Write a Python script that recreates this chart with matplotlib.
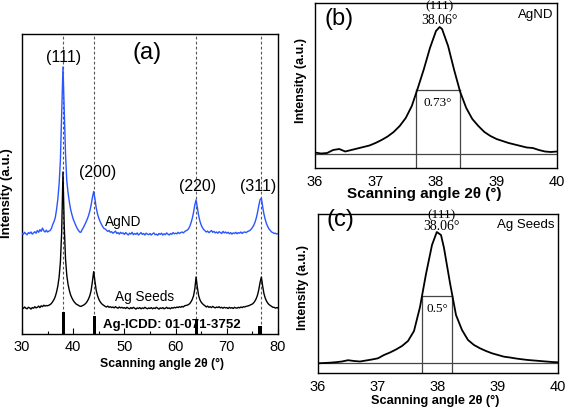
import numpy as np
import matplotlib
matplotlib.use("Agg")
import matplotlib.pyplot as plt
from matplotlib.ticker import MultipleLocator

plt.rcParams['font.family'] = ['Liberation Sans', 'DejaVu Sans']

# ---------------- data : panel (a) ----------------
two_theta = np.arange(30.0, 80.0001, 0.25)  # sampling positions of the scans

agnd = [
    33.6, 33.2, 33.9, 33.4, 33.1, 33.8, 33.5, 34.0, 33.3, 33.7, 34.1, 33.6, 34.5, 33.9, 34.8, 34.2, 35.3, 34.4, 34.0, 34.6,
    34.0, 34.3, 34.5, 35.2, 36.5, 37.5, 38.8, 41.5, 45.0, 50.0, 58.0, 74.0, 89.0, 75.0, 60.0, 51.0, 47.0, 44.0, 41.5, 39.8,
    38.3, 37.2, 36.2, 35.3, 34.6, 34.0, 33.9, 34.8, 35.5, 36.4, 37.3, 38.3, 39.5, 41.0, 43.0, 45.5, 47.5, 45.0, 42.0, 40.0,
    38.6, 37.5, 36.6, 35.8, 35.2, 35.0, 34.6, 34.2, 34.5, 33.9, 34.1, 33.6, 33.9, 34.3, 33.5, 33.8, 33.3, 33.9, 33.5, 33.7,
    33.2, 33.8, 33.4, 33.0, 33.6, 33.3, 33.9, 33.1, 33.5, 33.2, 33.7, 33.0, 33.4, 33.8, 33.2, 33.5, 33.0, 33.6, 33.3, 33.1,
    33.5, 33.0, 33.4, 33.7, 33.1, 33.3, 32.9, 33.5, 33.2, 33.6, 33.0, 33.4, 33.1, 33.7, 33.3, 33.0, 33.5, 33.2, 33.8, 33.4,
    33.6, 33.4, 33.9, 33.5, 33.8, 34.0, 33.7, 34.1, 34.4, 34.6, 35.0, 35.8, 37.0, 38.5, 40.5, 43.0, 44.7, 42.0, 39.5, 37.6,
    36.3, 35.4, 34.8, 34.4, 34.0, 34.3, 33.8, 34.1, 34.5, 33.9, 34.2, 33.7, 34.0, 33.6, 34.1, 33.8, 33.5, 34.2, 33.7, 34.0,
    33.6, 33.9, 33.4, 33.8, 33.3, 33.7, 33.5, 33.9, 33.4, 33.8, 33.6, 34.0, 33.5, 33.9, 34.0, 33.8, 34.1, 34.3, 34.5, 34.9,
    35.5, 36.2, 37.2, 38.6, 40.5, 42.8, 44.8, 45.3, 42.5, 40.0, 38.2, 36.8, 35.8, 35.0, 34.5, 34.0, 33.8, 33.5, 33.6, 33.3,
    33.5,
]

ag_seeds = [
    8.8, 8.5, 9.0, 8.6, 8.4, 8.9, 8.7, 8.3, 8.8, 8.6, 9.1, 8.7, 8.9, 9.3, 8.8, 9.4, 9.1, 9.6, 9.3, 9.5,
    9.4, 9.6, 9.8, 10.2, 10.8, 11.5, 12.5, 14.0, 16.0, 19.0, 24.0, 34.0, 54.0, 36.0, 25.0, 19.5, 16.5, 14.5, 13.0, 12.0,
    11.2, 10.6, 10.1, 9.8, 9.6, 9.3, 9.2, 9.4, 9.6, 9.9, 10.3, 10.9, 11.7, 12.8, 14.5, 17.5, 20.8, 17.5, 14.5, 12.8,
    11.6, 10.8, 10.2, 9.8, 9.5, 9.2, 9.0, 9.3, 8.9, 9.1, 8.8, 9.0, 8.7, 9.1, 8.8, 8.6, 9.0, 8.7, 8.9, 8.6,
    8.8, 8.5, 8.9, 8.6, 8.4, 8.8, 8.5, 8.9, 8.6, 8.3, 8.7, 8.5, 8.8, 8.4, 8.7, 8.5, 8.9, 8.6, 8.4, 8.7,
    8.5, 8.8, 8.4, 8.7, 8.5, 8.9, 8.6, 8.3, 8.7, 8.5, 8.8, 8.4, 8.6, 8.9, 8.5, 8.7, 8.4, 8.8, 8.6, 8.9,
    8.7, 9.0, 8.8, 9.1, 8.9, 9.2, 9.0, 9.4, 9.5, 9.6, 9.8, 10.1, 10.7, 11.5, 12.7, 15.0, 19.0, 15.5, 12.8, 11.4,
    10.6, 10.1, 9.7, 9.4, 9.0, 9.3, 8.9, 9.1, 8.8, 9.2, 8.9, 8.7, 9.0, 8.8, 9.1, 8.7, 8.9, 8.6, 8.9, 8.7,
    8.8, 8.5, 8.9, 8.6, 8.8, 8.5, 8.9, 8.7, 8.6, 8.9, 8.7, 9.0, 8.8, 9.1, 9.0, 9.2, 9.3, 9.4, 9.6, 9.8,
    10.0, 10.4, 11.0, 11.8, 13.0, 14.8, 17.2, 19.0, 16.0, 13.5, 12.0, 11.0, 10.3, 9.8, 9.5, 9.2, 8.9, 8.9, 8.6, 8.8,
    8.7,
]

icdd_pos = [38.1, 44.2, 64.1, 76.5]
icdd_int = [7.4, 6.1, 4.9, 2.8]
icdd_label = "Ag-ICDD: 01-071-3752"

peak_pos = [38.1, 44.0, 64.0, 76.6]
peak_hkl = ["(111)", "(200)", "(220)", "(311)"]

# ---------------- data : panel (b) AgND (111) ----------------
b_x = [36.0, 36.1, 36.2, 36.3, 36.4, 36.5, 36.6, 36.7, 36.8, 36.9, 37.0, 37.1, 37.2, 37.3, 37.4,
       37.5, 37.6, 37.7, 37.8, 37.9, 38.0, 38.06, 38.1, 38.2, 38.3, 38.4, 38.5, 38.6, 38.7, 38.8,
       38.9, 39.0, 39.1, 39.2, 39.3, 39.4, 39.5, 39.6, 39.7, 39.8, 39.9, 40.0]
b_y = [15.5, 14.5, 15.0, 18.0, 19.0, 16.5, 18.0, 19.5, 21.0, 22.5, 25.0, 28.0, 31.5, 36.0, 42.0,
       50.0, 62.0, 80.0, 99.0, 120.0, 137.0, 141.0, 139.0, 122.0, 98.0, 76.0, 60.0, 49.0, 42.0, 36.0,
       32.0, 29.0, 27.0, 25.0, 23.5, 22.0, 20.5, 20.0, 18.0, 16.5, 16.0, 16.5]
b_base = 14.0
b_half = 78.0
b_fwhm = [37.67, 38.40]

# ---------------- data : panel (c) Ag seeds (111) ----------------
c_x = [36.0, 36.1, 36.2, 36.3, 36.4, 36.5, 36.6, 36.7, 36.8, 36.9, 37.0, 37.1, 37.2, 37.3, 37.4,
       37.5, 37.6, 37.7, 37.8, 37.9, 37.98, 38.05, 38.1, 38.2, 38.3, 38.4, 38.5, 38.6, 38.7, 38.8,
       38.9, 39.0, 39.1, 39.2, 39.3, 39.4, 39.5, 39.6, 39.7, 39.8, 39.9, 40.0]
c_y = [9.7, 10.0, 10.3, 10.8, 11.5, 12.8, 12.0, 11.5, 12.5, 13.5, 14.7, 18.0, 20.5, 23.5, 27.0,
       32.0, 42.0, 66.0, 99.0, 128.0, 141.0, 138.0, 125.0, 90.0, 58.0, 43.0, 33.0, 28.0, 24.7, 22.0,
       19.7, 18.0, 16.3, 15.5, 14.5, 13.7, 13.0, 12.5, 12.0, 11.5, 11.0, 10.7]
c_base = 10.3
c_half = 77.0
c_fwhm = [37.74, 38.23]

# ---------------- figure ----------------
W, H = 567, 411
fig = plt.figure(figsize=(W / 100, H / 100), dpi=100)

def box(l, t, r, b):
    return [l / W, 1 - b / H, (r - l) / W, (b - t) / H]

axA = fig.add_axes(box(22, 34, 278, 334))
axB = fig.add_axes(box(315, 3, 557, 168))
axC = fig.add_axes(box(318, 214, 558, 373))

serif = ['Liberation Serif', 'DejaVu Serif']

# panel (a)
for p in peak_pos:
    axA.axvline(p, color='#555555', ls=(0, (2.5, 2)), lw=0.8, zorder=1)
axA.plot(two_theta, agnd, color='#2b55ff', lw=1.0, zorder=3)
axA.plot(two_theta, ag_seeds, color='black', lw=1.0, zorder=3)
axA.bar(icdd_pos, icdd_int, width=0.65, color='black', bottom=0, zorder=2)
axA.set_xlim(30, 80)
axA.set_ylim(0, 100)
axA.set_yticks([])
axA.xaxis.set_major_locator(MultipleLocator(10))
axA.xaxis.set_minor_locator(MultipleLocator(5))
axA.tick_params(axis='x', which='major', direction='in', length=4, width=0.8, labelsize=10.5, pad=4)
axA.tick_params(axis='x', which='minor', direction='in', length=2, width=0.8)
axA.set_xlabel("Scanning angle 2θ (°)", fontsize=8.8, fontweight='bold')
axA.xaxis.set_label_coords(0.545, -0.08)
axA.set_ylabel("Intensity (a.u.)", fontsize=9.5, fontweight='bold')
axA.yaxis.set_label_coords(-0.036, 0.47)
axA.text(54.4, 93.7, "(a)", fontsize=17, ha='center', va='center')
hkl_xy = [(38.2, 92.3), (44.8, 53.7), (64.2, 49.0), (76.1, 49.0)]
for (tx, ty), s in zip(hkl_xy, peak_hkl):
    axA.text(tx, ty, s, fontsize=11.5, ha='center', va='center')
axA.text(49.7, 37.3, "AgND", fontsize=9.8, ha='center', va='center')
axA.text(54.0, 12.3, "Ag Seeds", fontsize=9.8, ha='center', va='center')
axA.text(59.3, 2.9, icdd_label, fontsize=9.5, fontweight='bold', ha='center', va='center')

def detail(ax, x, y, base, half, fwhm, width_txt, name, letter, ymax, letter_xy, hkl_y, fw_y, xl_size):
    ax.plot(x, y, color='black', lw=1.3, zorder=3)
    ax.axhline(base, color='#444444', lw=0.9, zorder=2)
    ax.plot([fwhm[0], fwhm[0]], [0, half], color='#444444', lw=0.9, zorder=2)
    ax.plot([fwhm[1], fwhm[1]], [0, half], color='#444444', lw=0.9, zorder=2)
    ax.plot(fwhm, [half, half], color='#444444', lw=0.9, zorder=2)
    ax.set_xlim(36, 40)
    ax.set_ylim(0, ymax)
    ax.set_yticks([])
    ax.xaxis.set_major_locator(MultipleLocator(1))
    ax.tick_params(axis='x', direction='in', length=0, labelsize=10.5, pad=5)
    ax.text(letter_xy[0], letter_xy[1], letter, fontsize=17, ha='center', va='center')
    ax.text(0.985, 0.93, name, transform=ax.transAxes, fontsize=9.5, ha='right', va='center')
    ax.text(38.06, hkl_y[0], "(111)", family=serif, fontsize=9.5, ha='center', va='center')
    ax.text(38.06, hkl_y[1], "38.06°", family=serif, fontsize=10, ha='center', va='center')
    ax.text(np.mean(fwhm), fw_y, width_txt, family=serif, fontsize=9.5, ha='center', va='center')
    ax.set_xlabel("Scanning angle 2θ (°)", fontsize=xl_size, fontweight='bold')
    ax.set_ylabel("Intensity (a.u.)", fontsize=9, fontweight='bold')

detail(axB, b_x, b_y, b_base, b_half, b_fwhm, "0.73°", "AgND", "(b)", 165,
       (36.4, 149), (162, 147), 65, 11)
axB.xaxis.set_label_coords(0.45, -0.118)
axB.yaxis.set_label_coords(-0.035, 0.53)

detail(axC, c_x, c_y, c_base, c_half, c_fwhm, "0.5°", "Ag Seeds", "(c)", 159,
       (36.37, 153), (158, 147), 64, 9.2)
axC.xaxis.set_label_coords(0.49, -0.138)
axC.yaxis.set_label_coords(-0.038, 0.54)

for ax in (axA, axB, axC):
    for s in ax.spines.values():
        s.set_linewidth(1.0)

fig.savefig("out.png", dpi=100)
